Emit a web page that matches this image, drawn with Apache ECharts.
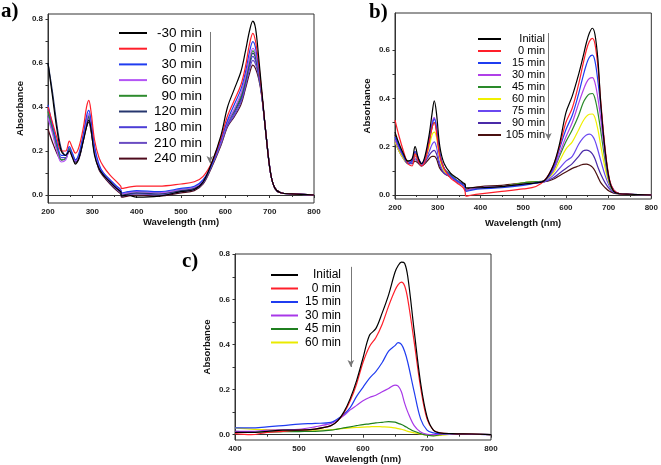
<!DOCTYPE html>
<html><head><meta charset="utf-8">
<script src="https://cdn.jsdelivr.net/npm/echarts@6/dist/echarts.min.js"></script>
<style>html,body{margin:0;padding:0;background:#fff}#c{width:661px;height:465px}</style>
</head><body><div id="c"></div>
<script>
// ---------- Panel a ----------
const wlA = [200,210,220,230,240,248,255,262,270,280,287,292,297,305,315,325,340,355,364,366,380,400,450,500,530,550,570,590,605,620,635,645,655,662,668,675,682,692,702,712,725,750,800];
const labelsA = ['-30 min','0 min','30 min','60 min','90 min','120 min','180 min','210 min','240 min'];
const colorsA = ['#000000','#ff1f2a','#1f3cf0','#b455f5','#2e8b2e','#26366e','#4c3ed6','#6a4cc2','#4e0a1c'];
const a_m30 = [.60,.45,.30,.20,.18,.20,.17,.14,.17,.25,.31,.34,.30,.18,.12,.09,.06,.03,.015,-.005,0,-.01,-.005,.015,.025,.06,.15,.27,.40,.48,.56,.65,.75,.79,.76,.63,.48,.27,.10,.03,.01,.005,0];
const a_0   = [.40,.33,.26,.20,.20,.245,.215,.19,.22,.31,.40,.43,.38,.25,.17,.13,.09,.06,.04,.03,.035,.04,.04,.05,.06,.085,.15,.26,.36,.43,.50,.58,.69,.735,.70,.60,.47,.27,.10,.03,.01,.005,0];
const a_30  = [.41,.32,.24,.18,.18,.22,.19,.16,.19,.28,.36,.385,.34,.22,.14,.10,.07,.04,.025,.01,.015,.02,.015,.03,.04,.07,.14,.25,.34,.41,.48,.555,.655,.697,.67,.58,.46,.27,.10,.03,.01,.005,0];
const a_60  = [.35,.28,.20,.15,.16,.20,.18,.155,.18,.27,.34,.37,.33,.21,.13,.10,.065,.035,.02,.005,.01,.015,.01,.025,.035,.065,.14,.24,.33,.39,.46,.535,.625,.667,.645,.57,.46,.27,.10,.03,.01,.005,0];
const a_90  = [.38,.30,.22,.16,.165,.21,.185,.16,.18,.27,.34,.36,.32,.21,.13,.10,.065,.035,.02,.005,.01,.015,.01,.025,.035,.065,.14,.24,.33,.385,.45,.525,.615,.655,.635,.565,.46,.27,.10,.03,.01,.005,0];
const a_120 = [.60,.47,.32,.21,.18,.205,.18,.15,.17,.26,.33,.355,.31,.20,.125,.095,.06,.03,.015,0,.005,.01,.005,.02,.03,.06,.14,.24,.33,.38,.44,.515,.605,.645,.625,.56,.46,.27,.10,.03,.01,.005,0];
const a_180 = [.39,.31,.23,.17,.17,.21,.185,.155,.175,.26,.33,.35,.31,.20,.125,.095,.06,.03,.015,0,.005,.01,.005,.02,.03,.06,.14,.235,.32,.37,.43,.505,.59,.63,.61,.55,.46,.27,.10,.03,.01,.005,0];
const a_210 = [.36,.29,.21,.16,.165,.205,.18,.15,.17,.255,.32,.34,.30,.195,.12,.09,.055,.025,.01,-.005,0,.005,0,.015,.025,.055,.135,.23,.315,.36,.42,.49,.575,.612,.595,.54,.455,.27,.10,.03,.01,.005,0];
const a_240 = [.30,.24,.19,.16,.165,.20,.175,.145,.165,.25,.31,.33,.29,.19,.115,.085,.05,.02,.005,-.01,-.005,0,-.005,.01,.02,.05,.13,.225,.31,.355,.41,.48,.555,.59,.575,.53,.45,.27,.10,.03,.01,.005,0];
const valuesA = [a_m30,a_0,a_30,a_60,a_90,a_120,a_180,a_210,a_240];

// ---------- Panel b ----------
const wlB = [200,210,220,230,240,247,255,262,270,280,287,292,297,305,315,330,345,360,364,366,380,400,450,500,530,550,570,585,600,615,630,640,648,655,662,668,675,682,692,702,712,725,750,800];
const labelsB = ['Initial','0 min','15 min','30 min','45 min','60 min','75 min','90 min','105 min'];
const colorsB = ['#000000','#ff1f2a','#1f3cf0','#b040e8','#2a8a2a','#f0f000','#6a48f0','#4a2aa8','#4a1010'];
const b_init = [.26,.21,.17,.14,.15,.20,.15,.13,.16,.25,.34,.39,.34,.20,.13,.09,.07,.05,.045,.03,.03,.03,.035,.045,.05,.06,.12,.21,.34,.41,.50,.57,.63,.67,.69,.665,.56,.37,.18,.06,.015,.005,.003,0];
const b_0   = [.31,.24,.18,.13,.12,.17,.14,.12,.14,.22,.28,.30,.26,.16,.11,.07,.05,.03,.015,-.005,0,.005,.015,.025,.035,.06,.12,.20,.30,.36,.46,.54,.60,.635,.648,.625,.53,.38,.19,.065,.02,.006,.003,0];
const b_15  = [.24,.20,.16,.13,.14,.18,.15,.13,.15,.23,.29,.315,.28,.17,.11,.08,.06,.04,.03,.015,.02,.025,.03,.04,.05,.06,.11,.19,.27,.33,.42,.49,.54,.57,.579,.555,.47,.36,.18,.06,.02,.006,.003,0];
const b_30  = [.23,.19,.16,.135,.145,.18,.15,.13,.15,.23,.30,.32,.28,.17,.11,.08,.06,.04,.035,.02,.025,.03,.035,.045,.05,.06,.10,.17,.24,.30,.38,.43,.465,.482,.486,.465,.40,.31,.16,.055,.02,.006,.003,0];
const b_45  = [.23,.19,.16,.14,.145,.175,.15,.13,.15,.22,.28,.30,.27,.17,.11,.085,.06,.04,.035,.02,.025,.03,.035,.05,.055,.06,.10,.16,.22,.27,.33,.38,.405,.418,.42,.40,.34,.26,.14,.05,.015,.006,.003,0];
const b_60  = [.22,.18,.15,.13,.14,.165,.145,.13,.145,.20,.25,.26,.24,.15,.10,.08,.06,.04,.035,.02,.025,.03,.035,.05,.055,.06,.09,.14,.19,.22,.27,.305,.325,.334,.335,.32,.27,.20,.11,.045,.015,.006,.003,0];
const b_75  = [.22,.18,.15,.13,.135,.16,.14,.125,.14,.18,.21,.22,.20,.13,.095,.075,.055,.04,.035,.02,.025,.03,.035,.045,.05,.055,.08,.11,.14,.16,.21,.235,.248,.252,.245,.225,.185,.14,.08,.035,.012,.005,.003,0];
const b_90  = [.22,.18,.15,.13,.13,.15,.135,.12,.135,.165,.18,.185,.17,.12,.09,.075,.055,.04,.035,.02,.025,.03,.035,.045,.05,.055,.07,.09,.11,.13,.16,.182,.186,.182,.17,.15,.115,.085,.05,.025,.01,.005,.003,0];
const b_105 = [.25,.20,.16,.14,.13,.14,.13,.12,.13,.15,.16,.16,.15,.11,.09,.075,.06,.045,.04,.025,.03,.035,.04,.05,.055,.055,.065,.08,.095,.11,.12,.127,.128,.124,.115,.10,.075,.05,.03,.015,.008,.004,.002,0];
const valuesB = [b_init,b_0,b_15,b_30,b_45,b_60,b_75,b_90,b_105];

// ---------- Panel c ----------
const wlC = [400,425,450,475,500,525,550,560,570,580,590,600,610,620,630,640,650,655,660,665,670,680,690,700,710,720,740,770,800];
const labelsC = ['Initial','0 min','15 min','30 min','45 min','60 min'];
const colorsC = ['#000000','#ff1f2a','#1f3cf0','#a838e8','#1f7f1f','#eaea00'];
const c_init = [.01,.01,.015,.02,.02,.025,.04,.06,.10,.16,.24,.34,.44,.47,.54,.62,.72,.75,.765,.76,.70,.46,.23,.08,.02,.008,.005,.003,0];
const c_0   = [.005,0,.01,.015,.02,.025,.04,.06,.095,.15,.225,.32,.39,.43,.49,.57,.64,.665,.676,.66,.60,.41,.21,.07,.02,.008,.005,.003,0];
const c_15  = [.03,.03,.035,.04,.047,.05,.055,.07,.09,.12,.17,.21,.25,.28,.32,.37,.395,.408,.40,.37,.32,.19,.07,.02,.008,.005,.004,.002,0];
const c_30  = [.015,.015,.02,.022,.024,.035,.05,.065,.085,.11,.13,.15,.165,.175,.19,.205,.22,.215,.19,.14,.10,.04,.012,.002,0,.002,.003,.002,0];
const c_45  = [.015,.012,.012,.013,.014,.015,.02,.025,.03,.035,.04,.045,.048,.052,.055,.058,.056,.05,.045,.038,.03,.015,.005,-.002,-.005,0,.005,.004,0];
const c_60  = [.03,.025,.022,.02,.02,.02,.022,.025,.028,.03,.032,.034,.035,.036,.035,.034,.03,.027,.024,.02,.015,.008,.003,-.002,-.004,-.003,.002,.003,0];
const valuesC = [c_init,c_0,c_15,c_30,c_45,c_60];

const yTicksA = [0,0.2,0.4,0.6,0.8];
const yTicksB = [0,0.2,0.4,0.6];
const yTicksC = [0,0.2,0.4,0.6,0.8];

// arrow annotations: [wavelength, from, to]
const arrowA = [565, 0.741, 0.145];
const arrowB = [559, 0.67, 0.228];
const arrowC = [581, 0.744, 0.30];

const chart = echarts.init(document.getElementById('c'), null, {renderer:'canvas'});
const SANS = 'Liberation Sans, Arial, sans-serif';

function minorOf(majors){
  const out = [];
  for (let i=0;i<majors.length;i++){ out.push(majors[i]); if(i<majors.length-1) out.push(+( (majors[i]+majors[i+1])/2 ).toFixed(3)); }
  return out;
}

function xAx(gi, min, max, gap){
  return {type:'value', gridIndex:gi, min, max, interval:100,
    axisLine:{show:true, lineStyle:{color:'#333', width:1}},
    axisTick:{show:true, length:3, lineStyle:{color:'#333'}},
    minorTick:{show:true, splitNumber:2, length:2, lineStyle:{color:'#333'}},
    splitLine:{show:false}, minorSplitLine:{show:false},
    axisLabel:{fontFamily:SANS, fontWeight:'bold', fontSize:8, color:'#222', margin:5, showMinLabel:true, showMaxLabel:true},
    name:'Wavelength (nm)', nameLocation:'middle', nameGap:gap,
    nameTextStyle:{fontFamily:SANS, fontWeight:'bold', fontSize:9.5, color:'#111'}};
}
function yAx(gi, min, max, ticks){
  return {type:'value', gridIndex:gi, min, max,
    axisLine:{show:true, lineStyle:{color:'#333', width:1}},
    axisTick:{show:true, length:2.5, customValues:minorOf(ticks), lineStyle:{color:'#333'}},
    splitLine:{show:false},
    axisLabel:{fontFamily:SANS, fontWeight:'bold', fontSize:8, color:'#222', margin:5, customValues:ticks, formatter:v=>v.toFixed(1)},
    name:'Absorbance', nameLocation:'middle', nameGap:23, nameRotate:90,
    nameTextStyle:{fontFamily:SANS, fontWeight:'bold', fontSize:9.5, color:'#111'}};
}

function buildSeries(prefix, gi, wl, labels, colors, values, arrow){
  return labels.map((lab, k) => {
    const s = {name: prefix + '|' + lab, type:'line', xAxisIndex:gi, yAxisIndex:gi,
      data: wl.map((x,i)=>[x, values[k][i]]), showSymbol:false, symbol:'none', smooth:0.35,
      lineStyle:{color:colors[k], width:1.2}, itemStyle:{color:colors[k]}, z: 10 - k*0.1, animation:false};
    if (k===0){
      s.markLine = {silent:true, symbol:['none','arrow'], symbolSize:[5,7], animation:false,
        lineStyle:{color:'#777', width:1, type:'solid'}, label:{show:false},
        data:[[{coord:[arrow[0], arrow[1]]},{coord:[arrow[0], arrow[2]]}]]};
    }
    return s;
  });
}

function legendOf(prefix, labels, left, top, iw, fs, lh, gap, tw){
  return {orient:'vertical', left, top, padding:0, itemWidth:iw, itemHeight:2, itemGap:gap, icon:'rect',
    selectedMode:false, data: labels.map(l=>prefix+'|'+l),
    formatter: n => '{t|' + n.split('|')[1] + '}',
    textStyle:{rich:{t:{width:tw, align:'right', fontSize:fs, lineHeight:lh, fontFamily:SANS, color:'#000'}}}};
}

const option = {
  backgroundColor:'#fff',
  animation:false,
  title:[
    {text:'a)', left:1, top:1, padding:0, textStyle:{fontFamily:'Liberation Serif, Times New Roman, serif', fontWeight:'bold', fontSize:21, color:'#000'}},
    {text:'b)', left:369, top:2, padding:0, textStyle:{fontFamily:'Liberation Serif, Times New Roman, serif', fontWeight:'bold', fontSize:21, color:'#000'}},
    {text:'c)', left:182, top:251, padding:0, textStyle:{fontFamily:'Liberation Serif, Times New Roman, serif', fontWeight:'bold', fontSize:21, color:'#000'}}
  ],
  grid:[
    {left:48, top:14, width:266, height:189, show:true, borderColor:'#333', borderWidth:1, backgroundColor:'transparent'},
    {left:395, top:13, width:258, height:186, show:true, borderColor:'#333', borderWidth:1, backgroundColor:'transparent'},
    {left:235, top:254, width:256, height:186, show:true, borderColor:'#333', borderWidth:1, backgroundColor:'transparent'}
  ],
  xAxis:[xAx(0,200,800,14), xAx(1,200,800,19), xAx(2,400,800,13)],
  yAxis:[yAx(0,-0.0364,0.8227,yTicksA), yAx(1,-0.0166,0.753,yTicksB), yAx(2,-0.0235,0.801,yTicksC)],
  legend:[
    legendOf('a', labelsA, 119, 26, 28, 13.5, 13, 1.7, 50),
    legendOf('b', labelsB, 478, 33.5, 23, 11, 11, 1, 39),
    legendOf('c', labelsC, 271, 269, 27, 12, 12, 1.5, 38)
  ],
  series:[].concat(
    buildSeries('a',0,wlA,labelsA,colorsA,valuesA,arrowA),
    buildSeries('b',1,wlB,labelsB,colorsB,valuesB,arrowB),
    buildSeries('c',2,wlC,labelsC,colorsC,valuesC,arrowC)
  )
};
chart.setOption(option);
</script>
</body></html>
